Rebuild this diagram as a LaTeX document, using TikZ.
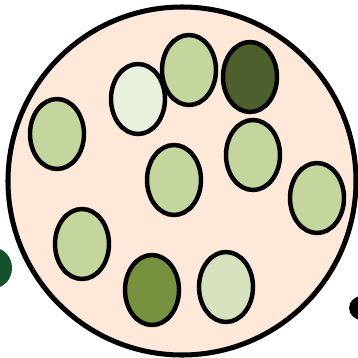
\documentclass[tikz,border=0pt]{standalone}
\definecolor{peach}{HTML}{FDE8DA}
\definecolor{leaf}{HTML}{C4D69D}
\definecolor{paleleaf}{HTML}{E9F0DC}
\definecolor{softleaf}{HTML}{D6E2BE}
\definecolor{oliveleaf}{HTML}{77913E}
\definecolor{darkleaf}{HTML}{4F5F2B}
\definecolor{forest}{HTML}{13522B}
\begin{document}
\begin{tikzpicture}[x=0.03cm, y=-0.03cm,
  cell/.style={draw=black, line width=3.8pt}]
\useasboundingbox (0,0) rectangle (358,357);
\fill[forest] (-6,268) ellipse (18 and 20);
\fill[black] (366,308) ellipse (17 and 13);
\draw[fill=peach, line width=4.3pt] (182,181) circle (174);
\draw[cell, fill=leaf] (57,134) ellipse (27 and 35);
\draw[cell, fill=paleleaf] (138,99) ellipse (27 and 35);
\draw[cell, fill=leaf] (189,70) ellipse (27 and 35);
\draw[cell, fill=darkleaf] (250,77) ellipse (27 and 35);
\draw[cell, fill=leaf] (174,180) ellipse (27 and 35);
\draw[cell, fill=leaf] (253,155) ellipse (27 and 35);
\draw[cell, fill=leaf] (317,198) ellipse (27 and 35);
\draw[cell, fill=leaf] (82,244) ellipse (27 and 35);
\draw[cell, fill=oliveleaf] (152,290) ellipse (27 and 35);
\draw[cell, fill=softleaf] (226,287) ellipse (27 and 35);
\end{tikzpicture}
\end{document}
